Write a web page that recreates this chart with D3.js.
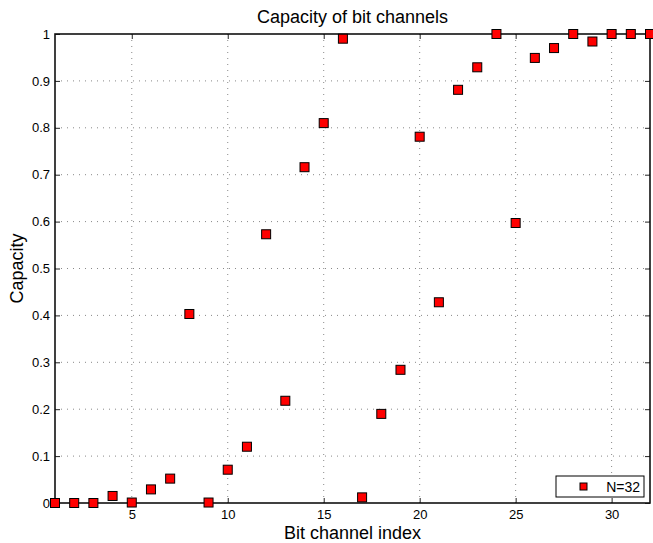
<!DOCTYPE html>
<html>
<head>
<meta charset="utf-8">
<script src="https://cdn.jsdelivr.net/npm/d3@7"></script>
<style>
  body { margin: 0; background: #fff; }
  text { font-family: "Liberation Sans", Arial, sans-serif; fill: #000; }
</style>
</head>
<body>
<div class="chart-container"></div>
<script>
var width = 653;
var height = 543;
var margin = { top: 34, right: 3, bottom: 40, left: 55 };

// Capacity of each bit channel, N=32
var channelIndex = d3.range(1, 33);
var capacity = [
  0, 0, 0, 0.015, 0.001, 0.029, 0.052, 0.403,
  0.001, 0.071, 0.12, 0.573, 0.218, 0.716, 0.81, 0.99,
  0.012, 0.19, 0.284, 0.781, 0.428, 0.881, 0.929, 1.0,
  0.597, 0.949, 0.97, 1.0, 0.984, 1.0, 1.0, 1.0
];
var xTicks = [5, 10, 15, 20, 25, 30];
var yTicks = [0, 0.1, 0.2, 0.3, 0.4, 0.5, 0.6, 0.7, 0.8, 0.9, 1];
var legendLabel = 'N=32';

var svg = d3.select('.chart-container')
  .append('svg')
  .attr('width', width)
  .attr('height', height);

var innerW = width - margin.left - margin.right;
var innerH = height - margin.top - margin.bottom;

var xScale = d3.scaleLinear().domain([1, 32]).range([0, innerW]);
var yScale = d3.scaleLinear().domain([0, 1]).range([innerH, 0]);

var g = svg.append('g')
  .attr('transform', 'translate(' + margin.left + ',' + margin.top + ')');

// Dotted grid
g.selectAll('.vgrid')
  .data(xTicks)
  .enter()
  .append('line')
  .attr('x1', d => xScale(d)).attr('x2', d => xScale(d))
  .attr('y1', 0).attr('y2', innerH)
  .attr('stroke', '#888')
  .attr('stroke-dasharray', '1,5');

g.selectAll('.hgrid')
  .data(yTicks.slice(1, -1))
  .enter()
  .append('line')
  .attr('x1', 0).attr('x2', innerW)
  .attr('y1', d => yScale(d)).attr('y2', d => yScale(d))
  .attr('stroke', '#888')
  .attr('stroke-dasharray', '1,5');

// Axes with inward ticks, MATLAB style
var xAxis = d3.axisBottom(xScale).tickValues(xTicks).tickSizeInner(-5).tickSizeOuter(0).tickPadding(7);
var yAxis = d3.axisLeft(yScale).tickValues(yTicks).tickSizeInner(-5).tickSizeOuter(0).tickPadding(5)
  .tickFormat(d3.format('~g'));

g.append('g')
  .attr('transform', 'translate(0,' + innerH + ')')
  .call(xAxis)
  .call(a => a.select('.domain').remove())
  .selectAll('text').style('font-size', '13px');

g.append('g')
  .call(yAxis)
  .call(a => a.select('.domain').remove())
  .selectAll('text').style('font-size', '13px');

// Mirror ticks on top and right
g.append('g')
  .call(d3.axisTop(xScale).tickValues(xTicks).tickSizeInner(-5).tickSizeOuter(0).tickFormat(''))
  .call(a => a.select('.domain').remove());
g.append('g')
  .attr('transform', 'translate(' + innerW + ',0)')
  .call(d3.axisRight(yScale).tickValues(yTicks).tickSizeInner(-5).tickSizeOuter(0).tickFormat(''))
  .call(a => a.select('.domain').remove());

g.selectAll('.tick line').attr('stroke', '#222');

// Box
g.append('rect')
  .attr('width', innerW)
  .attr('height', innerH)
  .attr('fill', 'none')
  .attr('stroke', '#111')
  .attr('stroke-width', 1.6);

// Markers
var ms = 9;
g.selectAll('.pt')
  .data(capacity)
  .enter()
  .append('rect')
  .attr('x', (d, i) => xScale(channelIndex[i]) - ms / 2)
  .attr('y', d => yScale(d) - ms / 2)
  .attr('width', ms)
  .attr('height', ms)
  .attr('fill', '#ff0000')
  .attr('stroke', '#000')
  .attr('stroke-width', 1);

// Legend
var lg = svg.append('g').attr('transform', 'translate(556,476)');
lg.append('rect')
  .attr('width', 88).attr('height', 21)
  .attr('fill', '#fff').attr('stroke', '#000').attr('stroke-width', 1);
lg.append('rect')
  .attr('x', 24).attr('y', 7).attr('width', 7).attr('height', 7)
  .attr('fill', '#ff0000').attr('stroke', '#000');
lg.append('text')
  .attr('x', 84).attr('y', 15.5)
  .attr('text-anchor', 'end')
  .style('font-size', '14px')
  .text(legendLabel);

// Titles
svg.append('text')
  .attr('x', margin.left + innerW / 2)
  .attr('y', 23)
  .attr('text-anchor', 'middle')
  .style('font-size', '18px')
  .text('Capacity of bit channels');

svg.append('text')
  .attr('x', margin.left + innerW / 2)
  .attr('y', 539)
  .attr('text-anchor', 'middle')
  .style('font-size', '18px')
  .text('Bit channel index');

svg.append('text')
  .attr('transform', 'rotate(-90)')
  .attr('x', -(margin.top + innerH / 2))
  .attr('y', 23)
  .attr('text-anchor', 'middle')
  .style('font-size', '18px')
  .text('Capacity');
</script>
</body>
</html>
